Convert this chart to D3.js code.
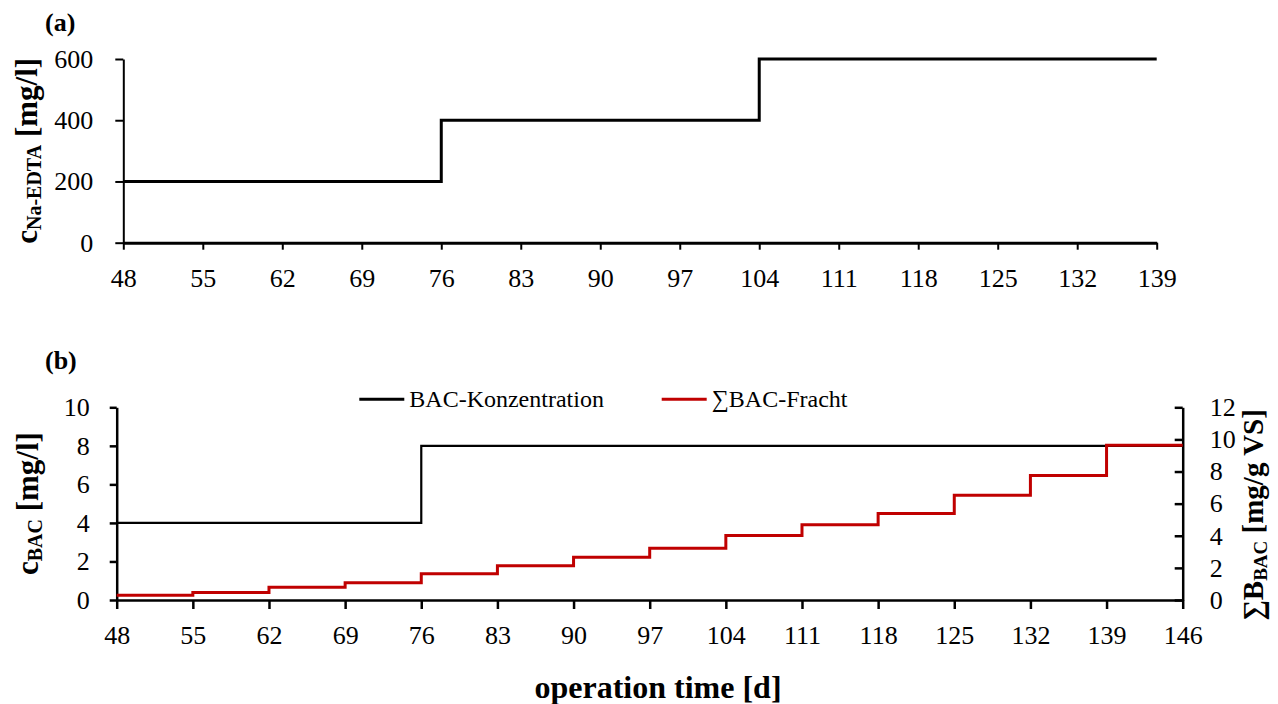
<!DOCTYPE html>
<html lang="de">
<head>
<meta charset="UTF-8">
<script src="https://cdnjs.cloudflare.com/ajax/libs/d3/7.8.5/d3.min.js"></script>
<title>Na-EDTA und BAC Dosierung</title>
<style>
  body { margin: 0; background: #fff; }
  svg { display: block; font-family: "Liberation Serif", "DejaVu Serif", serif; }
  .axis text { font-family: "Liberation Serif", "DejaVu Serif", serif; font-size: 26px; fill: #000; }
  .axis path, .axis line { stroke: #000; }
  .title { font-weight: bold; fill: #000; }
  .legend text { font-size: 24px; fill: #000; }
</style>
</head>
<body>
<svg width="1278" height="704"></svg>
<script>
// (a) Na-EDTA dosage, step changes
var edtaDays = [48, 76, 104, 139];
var edtaConc = [200, 400, 600, 600];

// (b) BAC concentration and cumulative BAC load (weekly steps)
var bacDays = [48, 76, 146];
var bacConc = [4, 8, 8];
var loadDays = [48, 55, 62, 69, 76, 83, 90, 97, 104, 111, 118, 125, 132, 139, 146];
var bacLoad = [0.3, 0.46, 0.79, 1.07, 1.63, 2.14, 2.66, 3.23, 4.02, 4.69, 5.38, 6.52, 7.75, 9.64, 9.64];

// tick labels
var xTicksA = [48, 55, 62, 69, 76, 83, 90, 97, 104, 111, 118, 125, 132, 139];
var xTicksB = [48, 55, 62, 69, 76, 83, 90, 97, 104, 111, 118, 125, 132, 139, 146];
var yTicksA = [0, 200, 400, 600];
var yTicksB = [0, 2, 4, 6, 8, 10];
var yTicksB2 = [0, 2, 4, 6, 8, 10, 12];

var legendNames = ["BAC-Konzentration", "\u2211BAC-Fracht"];
var legendColors = ["#000000", "#c00000"];

var svg = d3.select("svg");

// ---------- panel (a) ----------
var xA = d3.scaleLinear().domain([48, 139]).range([123.3, 1156.7]);
var yA = d3.scaleLinear().domain([0, 600]).range([242.7, 59]);

var gxA = svg.append("g").attr("class", "axis")
    .attr("transform", "translate(0," + yA(0) + ")")
    .call(d3.axisBottom(xA).tickValues(xTicksA).tickSizeInner(7).tickSizeOuter(0).tickPadding(18.5));
gxA.select(".domain").attr("stroke-width", 3);
gxA.selectAll(".tick line").attr("stroke-width", 2);

var gyA = svg.append("g").attr("class", "axis")
    .attr("transform", "translate(" + xA(48) + ",0)")
    .call(d3.axisLeft(yA).tickValues(yTicksA).tickSizeInner(8).tickSizeOuter(0).tickPadding(22));
gyA.selectAll("path, line").attr("stroke-width", 2);

var stepA = d3.line()
    .x(function (d, i) { return xA(edtaDays[i]); })
    .y(function (d) { return yA(d); })
    .curve(d3.curveStepAfter);

svg.append("path")
    .datum(edtaConc)
    .attr("d", stepA)
    .attr("fill", "none")
    .attr("stroke", "#000")
    .attr("stroke-width", 3);

svg.append("text").attr("class", "title")
    .attr("x", 45).attr("y", 31)
    .style("font-size", "26px")
    .text("(a)");

var tA = svg.append("text").attr("class", "title")
    .attr("transform", "translate(37," + (yA(0) + yA(600)) / 2 + ") rotate(-90)")
    .attr("text-anchor", "middle")
    .style("font-size", "31px");
tA.append("tspan").text("c");
tA.append("tspan").attr("dy", 4).style("font-size", "20px").text("Na-EDTA");
tA.append("tspan").attr("dy", -4).text(" [mg/l]");

// ---------- panel (b) ----------
var xB = d3.scaleLinear().domain([48, 146]).range([116.7, 1182.7]);
var yB = d3.scaleLinear().domain([0, 10]).range([600, 407.3]);
var yB2 = d3.scaleLinear().domain([0, 12]).range([600, 407.3]);

var gxB = svg.append("g").attr("class", "axis")
    .attr("transform", "translate(0," + yB(0) + ")")
    .call(d3.axisBottom(xB).tickValues(xTicksB).tickSizeInner(9).tickSizeOuter(0).tickPadding(16.5));
gxB.selectAll("path, line").attr("stroke-width", 2.5);

var gyB = svg.append("g").attr("class", "axis")
    .attr("transform", "translate(" + xB(48) + ",0)")
    .call(d3.axisLeft(yB).tickValues(yTicksB).tickSizeInner(7).tickSizeOuter(0).tickPadding(20));
gyB.selectAll("path, line").attr("stroke-width", 2.5);

var gyB2 = svg.append("g").attr("class", "axis")
    .attr("transform", "translate(" + xB(146) + ",0)")
    .call(d3.axisRight(yB2).tickValues(yTicksB2).tickSizeInner(-8).tickSizeOuter(0).tickPadding(27));
gyB2.selectAll("path, line").attr("stroke-width", 2.5);

var stepConc = d3.line()
    .x(function (d, i) { return xB(bacDays[i]); })
    .y(function (d) { return yB(d); })
    .curve(d3.curveStepAfter);

var stepLoad = d3.line()
    .x(function (d, i) { return xB(loadDays[i]); })
    .y(function (d) { return yB2(d); })
    .curve(d3.curveStepAfter);

svg.append("path")
    .datum(bacConc)
    .attr("d", stepConc)
    .attr("fill", "none")
    .attr("stroke", legendColors[0])
    .attr("stroke-width", 2.2);

svg.append("path")
    .datum(bacLoad)
    .attr("d", stepLoad)
    .attr("fill", "none")
    .attr("stroke", legendColors[1])
    .attr("stroke-width", 3);

svg.append("text").attr("class", "title")
    .attr("x", 45).attr("y", 369)
    .style("font-size", "26px")
    .text("(b)");

var tB = svg.append("text").attr("class", "title")
    .attr("transform", "translate(38," + (yB(0) + yB(10)) / 2 + ") rotate(-90)")
    .attr("text-anchor", "middle")
    .style("font-size", "31px");
tB.append("tspan").text("c");
tB.append("tspan").attr("dy", 4).style("font-size", "20px").text("BAC");
tB.append("tspan").attr("dy", -4).text(" [mg/l]");

var tB2 = svg.append("text").attr("class", "title")
    .attr("transform", "translate(1263,515) rotate(-90)")
    .attr("text-anchor", "middle")
    .style("font-size", "29px");
tB2.append("tspan").text("\u2211B");
tB2.append("tspan").attr("dy", 4).style("font-size", "19px").text("BAC");
tB2.append("tspan").attr("dy", -4).text(" [mg/g VS]");

svg.append("text").attr("class", "title")
    .attr("x", 658).attr("y", 698)
    .attr("text-anchor", "middle")
    .style("font-size", "32px")
    .text("operation time [d]");

// legend
var legendX = [359.3, 661.7];
var leg = svg.append("g").attr("class", "legend")
    .selectAll("g")
    .data(legendNames)
    .enter()
    .append("g")
    .attr("transform", function (d, i) { return "translate(" + legendX[i] + ",399.3)"; });

leg.append("line")
    .attr("x1", 0).attr("x2", 45)
    .attr("stroke", function (d, i) { return legendColors[i]; })
    .attr("stroke-width", 3);

leg.append("text")
    .attr("x", 50).attr("y", 7.5)
    .text(function (d) { return d; });
</script>
</body>
</html>
